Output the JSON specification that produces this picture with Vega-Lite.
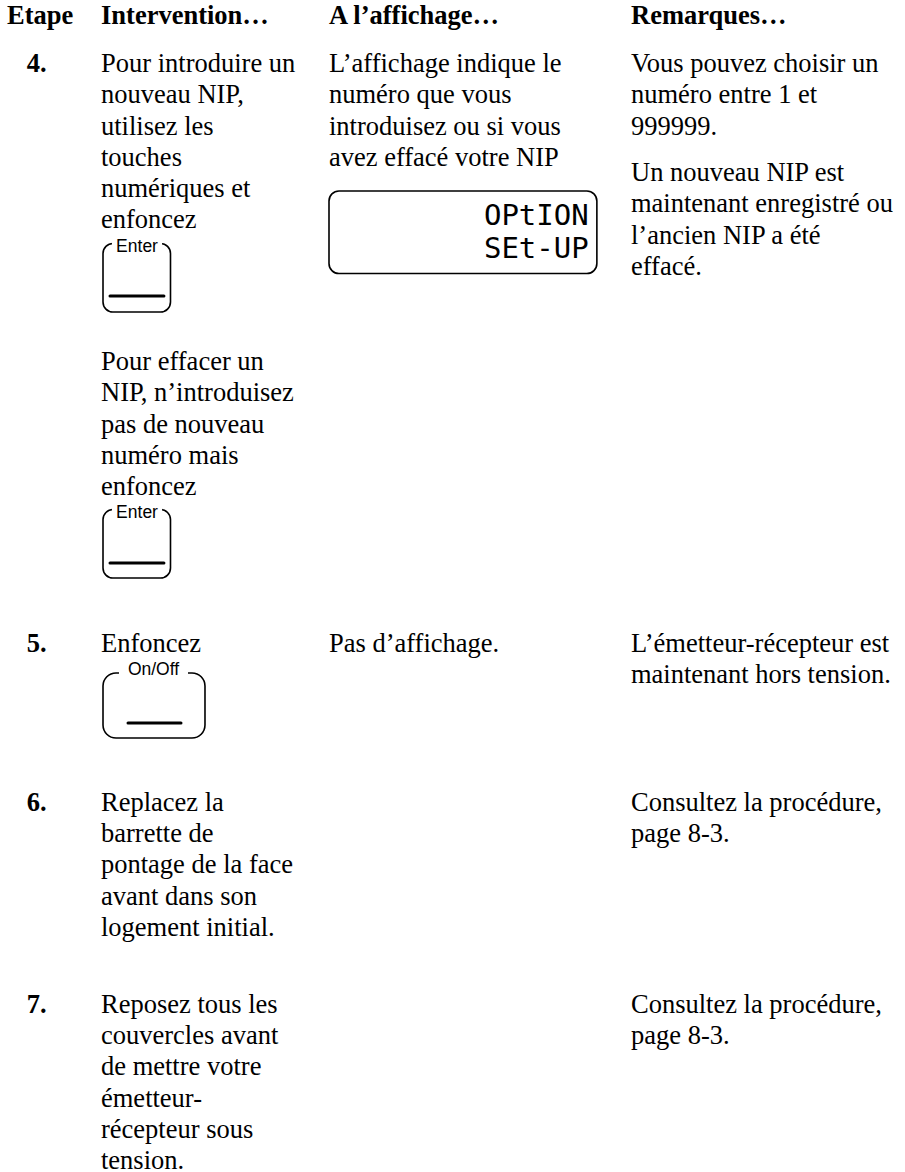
{
  "$schema": "https://vega.github.io/schema/vega-lite/v6.json",
  "width": 905,
  "height": 1172,
  "autosize": "none",
  "padding": 0,
  "background": "white",
  "config": {"view": {"stroke": null}},
  "datasets": {
    "texts": [
      {"kind": "head", "col": 0, "line": -1.53, "text": "Etape"},
      {"kind": "head", "col": 1, "line": -1.53, "text": "Intervention…"},
      {"kind": "head", "col": 2, "line": -1.53, "text": "A l’affichage…"},
      {"kind": "head", "col": 3, "line": -1.53, "text": "Remarques…"},

      {"kind": "step", "col": 0.21, "line": 0, "text": "4."},
      {"kind": "body", "col": 1, "line": 0, "text": "Pour introduire un"},
      {"kind": "body", "col": 1, "line": 1, "text": "nouveau NIP,"},
      {"kind": "body", "col": 1, "line": 2, "text": "utilisez les"},
      {"kind": "body", "col": 1, "line": 3, "text": "touches"},
      {"kind": "body", "col": 1, "line": 4, "text": "numériques et"},
      {"kind": "body", "col": 1, "line": 5, "text": "enfoncez"},
      {"kind": "body", "col": 1, "line": 9.52, "text": "Pour effacer un"},
      {"kind": "body", "col": 1, "line": 10.52, "text": "NIP, n’introduisez"},
      {"kind": "body", "col": 1, "line": 11.52, "text": "pas de nouveau"},
      {"kind": "body", "col": 1, "line": 12.52, "text": "numéro mais"},
      {"kind": "body", "col": 1, "line": 13.52, "text": "enfoncez"},
      {"kind": "body", "col": 2, "line": 0, "text": "L’affichage indique le"},
      {"kind": "body", "col": 2, "line": 1, "text": "numéro que vous"},
      {"kind": "body", "col": 2, "line": 2, "text": "introduisez ou si vous"},
      {"kind": "body", "col": 2, "line": 3, "text": "avez effacé votre NIP"},
      {"kind": "body", "col": 3, "line": 0, "text": "Vous pouvez choisir un"},
      {"kind": "body", "col": 3, "line": 1, "text": "numéro entre 1 et"},
      {"kind": "body", "col": 3, "line": 2, "text": "999999."},
      {"kind": "body", "col": 3, "line": 3.48, "text": "Un nouveau NIP est"},
      {"kind": "body", "col": 3, "line": 4.48, "text": "maintenant enregistré ou"},
      {"kind": "body", "col": 3, "line": 5.48, "text": "l’ancien NIP a été"},
      {"kind": "body", "col": 3, "line": 6.48, "text": "effacé."},

      {"kind": "step", "col": 0.21, "line": 18.53, "text": "5."},
      {"kind": "body", "col": 1, "line": 18.53, "text": "Enfoncez"},
      {"kind": "body", "col": 2, "line": 18.53, "text": "Pas d’affichage."},
      {"kind": "body", "col": 3, "line": 18.53, "text": "L’émetteur-récepteur est"},
      {"kind": "body", "col": 3, "line": 19.53, "text": "maintenant hors tension."},

      {"kind": "step", "col": 0.21, "line": 23.6, "text": "6."},
      {"kind": "body", "col": 1, "line": 23.6, "text": "Replacez la"},
      {"kind": "body", "col": 1, "line": 24.6, "text": "barrette de"},
      {"kind": "body", "col": 1, "line": 25.6, "text": "pontage de la face"},
      {"kind": "body", "col": 1, "line": 26.6, "text": "avant dans son"},
      {"kind": "body", "col": 1, "line": 27.6, "text": "logement initial."},
      {"kind": "body", "col": 3, "line": 23.6, "text": "Consultez la procédure,"},
      {"kind": "body", "col": 3, "line": 24.6, "text": "page 8-3."},

      {"kind": "step", "col": 0.21, "line": 30.06, "text": "7."},
      {"kind": "body", "col": 1, "line": 30.06, "text": "Reposez tous les"},
      {"kind": "body", "col": 1, "line": 31.06, "text": "couvercles avant"},
      {"kind": "body", "col": 1, "line": 32.06, "text": "de mettre votre"},
      {"kind": "body", "col": 1, "line": 33.06, "text": "émetteur-"},
      {"kind": "body", "col": 1, "line": 34.06, "text": "récepteur sous"},
      {"kind": "body", "col": 1, "line": 35.06, "text": "tension."},
      {"kind": "body", "col": 3, "line": 30.06, "text": "Consultez la procédure,"},
      {"kind": "body", "col": 3, "line": 31.06, "text": "page 8-3."},

      {"kind": "key", "col": 1.158, "line": 5.751, "text": "Enter"},
      {"kind": "key", "col": 1.158, "line": 14.249, "text": "Enter"},
      {"kind": "key", "col": 1.2303, "line": 19.265, "text": "On/Off"},

      {"kind": "lcd", "col": 2.86, "line": 4.888, "text": "OPtION"},
      {"kind": "lcd", "col": 2.86, "line": 5.942, "text": "SEt-UP"}
    ],
    "boxes": [
      {"item": "display", "round": "small", "col": 2.0, "col2": 2.887, "line": 3.8, "line2": 6.44},
      {"item": "Enter 1", "round": "small", "col": 1.0088, "col2": 1.3048, "line": 5.479, "line2": 7.668},
      {"item": "Enter 2", "round": "small", "col": 1.0088, "col2": 1.3048, "line": 13.978, "line2": 16.166},
      {"item": "On/Off", "round": "large", "col": 1.0088, "col2": 1.4561, "line": 19.201, "line2": 21.278}
    ],
    "gaps": [
      {"item": "Enter 1", "col": 1.048, "col2": 1.268, "line": 5.335, "line2": 5.591},
      {"item": "Enter 2", "col": 1.048, "col2": 1.268, "line": 13.834, "line2": 14.09},
      {"item": "On/Off", "col": 1.0789, "col2": 1.3816, "line": 19.042, "line2": 19.297}
    ],
    "bars": [
      {"item": "Enter 1", "col": 1.0395, "col2": 1.276, "line": 7.157},
      {"item": "Enter 2", "col": 1.0395, "col2": 1.276, "line": 15.687},
      {"item": "On/Off", "col": 1.1184, "col2": 1.3509, "line": 20.799}
    ]
  },
  "layer": [
    {
      "data": {"name": "boxes"},
      "transform": [{"filter": "datum.round === 'small'"}],
      "mark": {"type": "rect", "filled": false, "stroke": "black", "strokeWidth": 1.6, "cornerRadius": 10},
      "encoding": {
        "x": {"field": "col", "type": "quantitative", "axis": null, "scale": {"domain": [0, 1, 2, 3, 4], "range": [7, 101, 329, 631, 905], "zero": false, "nice": false}},
        "x2": {"field": "col2"},
        "y": {"field": "line", "type": "quantitative", "axis": null, "scale": {"domain": [-2.3003, 35.1438], "range": [0, 1172], "zero": false, "nice": false}},
        "y2": {"field": "line2"}
      }
    },
    {
      "data": {"name": "boxes"},
      "transform": [{"filter": "datum.round === 'large'"}],
      "mark": {"type": "rect", "filled": false, "stroke": "black", "strokeWidth": 1.6, "cornerRadius": 13},
      "encoding": {
        "x": {"field": "col", "type": "quantitative", "axis": null},
        "x2": {"field": "col2"},
        "y": {"field": "line", "type": "quantitative", "axis": null},
        "y2": {"field": "line2"}
      }
    },
    {
      "data": {"name": "gaps"},
      "mark": {"type": "rect", "fill": "white", "strokeWidth": 0},
      "encoding": {
        "x": {"field": "col", "type": "quantitative", "axis": null},
        "x2": {"field": "col2"},
        "y": {"field": "line", "type": "quantitative", "axis": null},
        "y2": {"field": "line2"}
      }
    },
    {
      "data": {"name": "bars"},
      "mark": {"type": "rule", "stroke": "black", "strokeWidth": 3, "strokeCap": "round"},
      "encoding": {
        "x": {"field": "col", "type": "quantitative", "axis": null},
        "x2": {"field": "col2"},
        "y": {"field": "line", "type": "quantitative", "axis": null}
      }
    },
    {
      "data": {"name": "texts"},
      "transform": [{"filter": "datum.kind === 'body'"}],
      "mark": {"type": "text", "font": "Liberation Serif", "fontSize": 26.5, "align": "left", "baseline": "alphabetic", "color": "black"},
      "encoding": {
        "x": {"field": "col", "type": "quantitative", "axis": null},
        "y": {"field": "line", "type": "quantitative", "axis": null},
        "text": {"field": "text", "type": "nominal"}
      }
    },
    {
      "data": {"name": "texts"},
      "transform": [{"filter": "datum.kind === 'head' || datum.kind === 'step'"}],
      "mark": {"type": "text", "font": "Liberation Serif", "fontSize": 26.5, "fontWeight": "bold", "align": "left", "baseline": "alphabetic", "color": "black"},
      "encoding": {
        "x": {"field": "col", "type": "quantitative", "axis": null},
        "y": {"field": "line", "type": "quantitative", "axis": null},
        "text": {"field": "text", "type": "nominal"}
      }
    },
    {
      "data": {"name": "texts"},
      "transform": [{"filter": "datum.kind === 'key'"}],
      "mark": {"type": "text", "font": "Liberation Sans", "fontSize": 17.5, "align": "center", "baseline": "alphabetic", "color": "black"},
      "encoding": {
        "x": {"field": "col", "type": "quantitative", "axis": null},
        "y": {"field": "line", "type": "quantitative", "axis": null},
        "text": {"field": "text", "type": "nominal"}
      }
    },
    {
      "data": {"name": "texts"},
      "transform": [{"filter": "datum.kind === 'lcd'"}],
      "mark": {"type": "text", "font": "DejaVu Sans Mono", "fontSize": 29, "align": "right", "baseline": "alphabetic", "color": "black"},
      "encoding": {
        "x": {"field": "col", "type": "quantitative", "axis": null},
        "y": {"field": "line", "type": "quantitative", "axis": null},
        "text": {"field": "text", "type": "nominal"}
      }
    }
  ]
}
